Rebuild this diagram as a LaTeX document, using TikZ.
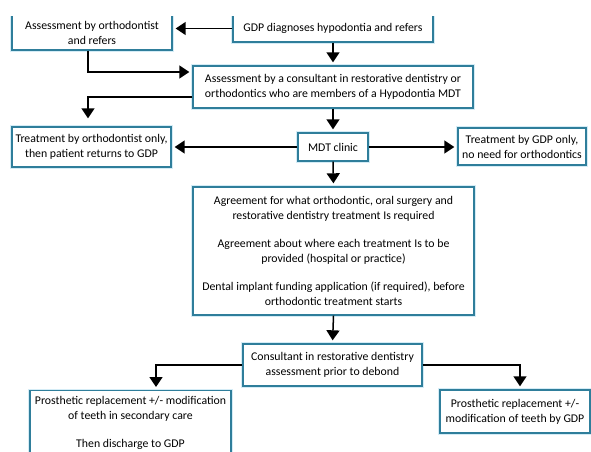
\documentclass[tikz,border=0pt]{standalone}
\usepackage{fontspec}
\setmainfont{Carlito}
\usetikzlibrary{arrows.meta}

\definecolor{boxblue}{HTML}{2F7E9B}
\definecolor{haloblue}{HTML}{D4ECF6}

\tikzset{
  box/.style={draw=boxblue, line width=1.4pt, fill=white, align=center,
    inner sep=2pt, text=black, font=\fontsize{11.8}{15}\selectfont,
    preaction={draw=haloblue, line width=4pt}},
  arr/.style={line width=1.5pt, -{Triangle[length=10pt,width=13pt]}, shorten >=3pt}
}

\begin{document}
\begin{tikzpicture}[x=1pt,y=-1pt]
\useasboundingbox (0,0) rectangle (591,451);
\clip (0,16.5) rectangle (591,451);

% top row
\node [box, minimum width=160pt, minimum height=35pt] (ortho) at (92,32.5) {Assessment by orthodontist\\and refers};
\node [box, minimum width=200pt, minimum height=27pt] (gdp) at (333,28.5) {GDP diagnoses hypodontia and refers};
\node [box, minimum width=280pt, minimum height=42pt] (consult) at (333,87) {Assessment by a consultant in restorative dentistry or\\orthodontics who are members of a Hypodontia MDT};

% MDT row
\node [box, minimum width=159pt, minimum height=40pt] (orthoonly) at (91.5,147) {Treatment by orthodontist only,\\then patient returns to GDP};
\node [box, minimum width=70pt, minimum height=28pt] (mdt) at (333,147) {MDT clinic};
\node [box, minimum width=128pt, minimum height=37pt] (gdponly) at (522,146.5) {Treatment by GDP only,\\no need for orthodontics};

\node [box, minimum width=281pt, minimum height=128pt] (agree) at (333.5,251) {Agreement for what orthodontic, oral surgery and\\restorative dentistry treatment Is required\\[13pt]Agreement about where each treatment Is to be\\provided (hospital or practice)\\[13pt]Dental implant funding application (if required), before\\orthodontic treatment starts};

% bottom
\node [box, minimum width=179pt, minimum height=42pt] (debond) at (332.5,365) {Consultant in restorative dentistry\\assessment prior to debond};
\node [box, minimum width=201pt, anchor=north, inner ysep=6pt] (second) at (130.5,390) {Prosthetic replacement +/- modification\\of teeth in secondary care\\[13pt]Then discharge to GDP};
\node [box, minimum width=150pt, minimum height=43pt] (bygdp) at (515,411.5) {Prosthetic replacement +/-\\modification of teeth by GDP};

\coordinate (lx) at (88,0);
\coordinate (sx) at (156,0);
\coordinate (rx) at (520,0);

\draw [arr] (gdp.west) -- (gdp.west -| ortho.east);
\draw [arr] (gdp.south) -- (consult.north);
\draw [arr] (ortho.south -| lx) |- ([yshift=15pt]consult.west);
\draw [arr, shorten >=8pt] ([yshift=-10pt]consult.west) -| (orthoonly.north -| lx);
\draw [arr] (consult.south) -- (mdt.north);
\draw [arr] (mdt.west) -- (orthoonly.east);
\draw [arr] (mdt.east) -- (mdt.east -| gdponly.west);
\draw [arr] (mdt.south) -- (agree.north);
\draw [arr] (agree.south) -- (debond.north);
\draw [arr] (debond.west) -| (second.north -| sx);
\draw [arr] (debond.east) -| (bygdp.north -| rx);
\end{tikzpicture}
\end{document}
